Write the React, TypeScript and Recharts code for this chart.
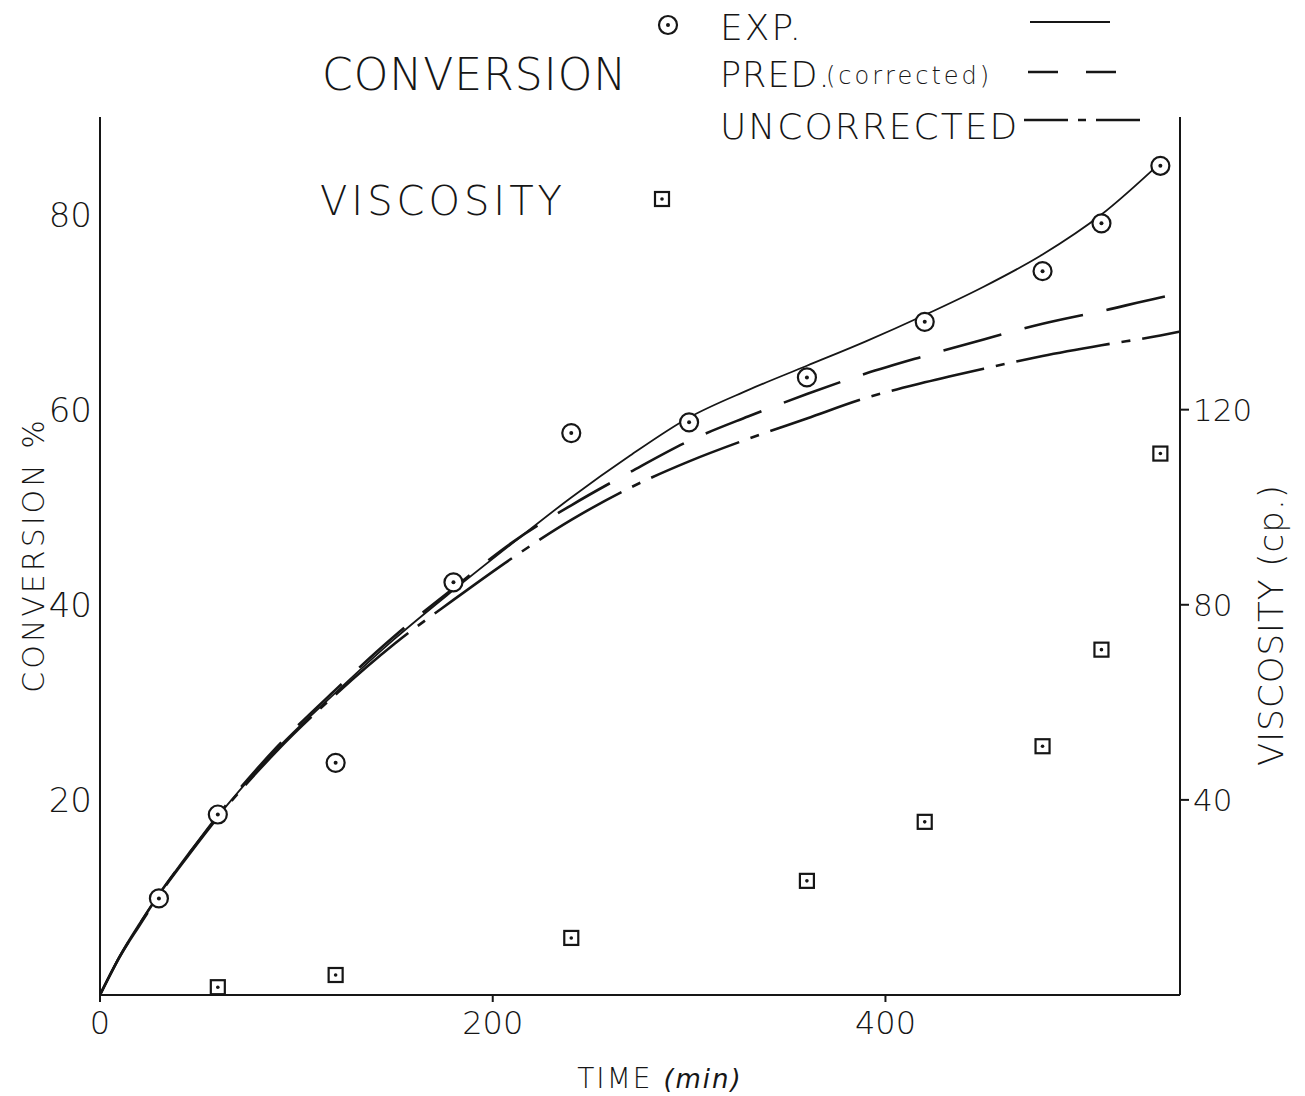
import { ComposedChart, Line, Scatter, XAxis, YAxis } from "recharts";

// time (min) for the smoothed curves
const curveTime = [0, 10, 20, 30, 45, 60, 90, 120, 150, 180, 210, 240, 270, 300, 330, 360, 390, 420, 450, 480, 510, 540, 550];
// conversion %
const expCurve = [0, 4, 7.3, 10.3, 14.5, 18.3, 25.2, 31, 36.5, 41.5, 46.3, 51, 55.3, 59.2, 62, 64.5, 67, 69.7, 72.6, 75.9, 80, 85.3, null];
const predCurve = [0, 3.9, 7.2, 10.3, 14.4, 18.4, 25.4, 31.3, 36.8, 41.7, 46.4, 50.2, 53.6, 56.8, 59.3, 61.6, 63.7, 65.5, 67.2, 68.8, 70.1, 71.5, 71.9];
const uncorrCurve = [0, 3.9, 7.1, 10.2, 14.3, 18.2, 25, 30.8, 36, 40.5, 44.8, 48.7, 52, 54.7, 57, 59.1, 61.2, 62.8, 64.2, 65.5, 66.6, 67.6, 68];

// experimental conversion points
const expTime = [30, 60, 120, 180, 240, 300, 360, 420, 480, 510, 540];
const expConv = [9.9, 18.5, 23.8, 42.3, 57.6, 58.7, 63.3, 69, 74.2, 79.1, 85];

// viscosity points (cp.)
const viscTime = [60, 120, 240, 360, 420, 480, 510, 540];
const viscVal = [1.6, 4.1, 11.7, 23.4, 35.5, 51, 70.8, 111];

const xTicks = [0, 200, 400];
const leftTicks = [20, 40, 60, 80];
const rightTicks = [40, 80, 120];

const expData = curveTime.map((t, i) => ({ t, v: expCurve[i] })).filter((d) => d.v !== null);
const predData = curveTime.map((t, i) => ({ t, v: predCurve[i] }));
const uncorrData = curveTime.map((t, i) => ({ t, v: uncorrCurve[i] }));
const expPoints = expTime.map((t, i) => ({ t, v: expConv[i] }));
const viscPoints = viscTime.map((t, i) => ({ t, v: viscVal[i] }));

const INK = "#161616";
const FONT = "'DejaVu Sans', sans-serif";

const CircleDot = (props: any) => {
  const { cx, cy } = props;
  return (
    <g>
      <circle cx={cx} cy={cy} r={9} fill="#fff" stroke={INK} strokeWidth={2.2} />
      <circle cx={cx} cy={cy} r={2} fill={INK} />
    </g>
  );
};

const SquareDot = (props: any) => {
  const { cx, cy } = props;
  return (
    <g>
      <rect x={cx - 7} y={cy - 7} width={14} height={14} fill="#fff" stroke={INK} strokeWidth={2.2} />
      <circle cx={cx} cy={cy} r={1.8} fill={INK} />
    </g>
  );
};

const tickStyle = { fill: INK, fontFamily: FONT, fontWeight: 200 };

export default function App() {
  return (
    <div style={{ position: "absolute", left: 0, top: 0, width: 1305, height: 1096, background: "#fff" }}>
      <ComposedChart width={1305} height={1096} margin={{ top: 117, right: 0, bottom: 41, left: 0 }}>
        <XAxis
          type="number"
          dataKey="t"
          domain={[0, 550]}
          ticks={xTicks}
          allowDataOverflow
          height={60}
          axisLine={{ stroke: INK, strokeWidth: 2 }}
          tickLine={{ stroke: INK, strokeWidth: 2 }}
          tickSize={7}
          tickMargin={9}
          tick={{ ...tickStyle, fontSize: 32 }}
        />
        <YAxis
          yAxisId="left"
          type="number"
          domain={[0, 90]}
          ticks={leftTicks}
          width={100}
          axisLine={{ stroke: INK, strokeWidth: 2 }}
          tickLine={false}
          tickMargin={2}
          tick={{ ...tickStyle, fontSize: 34 }}
        />
        <YAxis
          yAxisId="right"
          orientation="right"
          type="number"
          domain={[0, 180]}
          ticks={rightTicks}
          width={125}
          axisLine={{ stroke: INK, strokeWidth: 2 }}
          tickLine={{ stroke: INK, strokeWidth: 2 }}
          tickSize={9}
          tickMargin={4}
          tick={{ ...tickStyle, fontSize: 31 }}
        />
        <Line yAxisId="left" data={uncorrData} dataKey="v" type="monotone" stroke={INK} strokeWidth={2.6} strokeDasharray="95 12 9 12" dot={false} isAnimationActive={false} />
        <Line yAxisId="left" data={predData} dataKey="v" type="monotone" stroke={INK} strokeWidth={2.6} strokeDasharray="60 24" dot={false} isAnimationActive={false} />
        <Line yAxisId="left" data={expData} dataKey="v" type="monotone" stroke={INK} strokeWidth={1.8} dot={false} isAnimationActive={false} />
        <Scatter yAxisId="left" data={expPoints} dataKey="v" shape={CircleDot} isAnimationActive={false} />
        <Scatter yAxisId="right" data={viscPoints} dataKey="v" shape={SquareDot} isAnimationActive={false} />
      </ComposedChart>

      {/* legend and axis titles */}
      <svg width={1305} height={1096} style={{ position: "absolute", left: 0, top: 0, pointerEvents: "none" }}>
        <g fill={INK} fontFamily={FONT} fontWeight={200}>
          <text x={720} y={40} fontSize={36} letterSpacing={2}>EXP.</text>
          <text x={322} y={90} fontSize={44} letterSpacing={1}>CONVERSION</text>
          <text x={720} y={87} fontSize={35} letterSpacing={1}>PRED.</text>
          <text x={826} y={84} fontSize={24} letterSpacing={3}>(corrected)</text>
          <text x={720} y={139} fontSize={36} letterSpacing={2}>UNCORRECTED</text>
          <text x={320} y={215} fontSize={40} letterSpacing={4}>VISCOSITY</text>
          <text x={660} y={1088} fontSize={28} textAnchor="middle" letterSpacing={2}>
            TIME <tspan fontStyle="italic" fontSize={26}>(min)</tspan>
          </text>
          <text x={44} y={555} fontSize={30} letterSpacing={3} textAnchor="middle" transform="rotate(-90 44 555)">
            CONVERSION %
          </text>
          <text x={1283} y={625} fontSize={34} letterSpacing={1} textAnchor="middle" transform="rotate(-90 1283 625)">
            VISCOSITY (cp.)
          </text>
        </g>
        <CircleDot cx={668} cy={25} />
        <SquareDot cx={662} cy={199} />
        <line x1={1030} y1={22} x2={1110} y2={22} stroke={INK} strokeWidth={2} />
        <line x1={1028} y1={72} x2={1140} y2={72} stroke={INK} strokeWidth={2.4} strokeDasharray="30 28" />
        <line x1={1024} y1={120} x2={1140} y2={120} stroke={INK} strokeWidth={2.4} strokeDasharray="44 10 8 10" />
      </svg>
    </div>
  );
}
